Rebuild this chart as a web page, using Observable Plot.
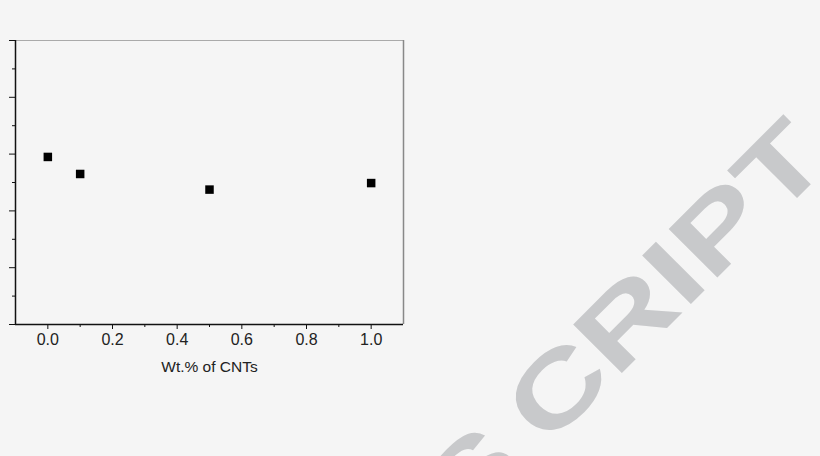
<!DOCTYPE html>
<html><head><meta charset="utf-8">
<script src="https://cdn.jsdelivr.net/npm/d3@7"></script>
<script src="https://cdn.jsdelivr.net/npm/@observablehq/plot@0.6"></script>
<style>
html,body{margin:0;padding:0;background:#f5f5f5;overflow:hidden;width:820px;height:456px}
#wrap{position:relative;width:820px;height:456px}
#wm{position:absolute;left:0;top:0}
#chart{position:absolute;left:0;top:0}
</style></head><body>
<div id="wrap">
<svg id="wm" width="820" height="456"></svg>
<div id="chart"></div>
</div>
<script>
// data
const cntWt = [0, 0.1, 0.5, 1.0];
const yValues = [5.9, 5.3, 4.75, 4.98];
const xMajorTicks = [0, 0.2, 0.4, 0.6, 0.8, 1.0];
const xMinorTicks = [0.1, 0.3, 0.5, 0.7, 0.9];
const yMajorTicks = [0, 2, 4, 6, 8, 10];
const yMinorTicks = [1, 3, 5, 7, 9];
const xLabel = "Wt.% of CNTs";
const watermarkParts = ["MANUS", "CRIPT"];

const data = cntWt.map((x, i) => ({x, y: yValues[i]}));

const chart = Plot.plot({
  width: 820, height: 456,
  marginLeft: 15, marginRight: 417, marginTop: 40, marginBottom: 132,
  style: {background: "transparent", fontFamily: "'Liberation Sans', Arial, sans-serif", fontSize: "16px", color: "#222"},
  x: {domain: [-0.1, 1.1]},
  y: {domain: [0, 10]},
  marks: [
    Plot.ruleY([10], {stroke: "#aaa", strokeWidth: 1}),
    Plot.ruleX([1.1], {stroke: "#888", strokeWidth: 1.5}),
    Plot.axisY(yMajorTicks, {tickSize: 6, fill: "none", label: null, stroke: "#111"}),
    Plot.axisY(yMinorTicks, {tickSize: 3, fill: "none", label: null, stroke: "#111"}),
    Plot.axisX(xMinorTicks, {tickSize: 3, fill: "none", label: null, stroke: "#111"}),
    Plot.axisX(xMajorTicks, {tickSize: 5, tickPadding: 4, stroke: "#111", fontSize: 16, tickFormat: d3.format(".1f"), label: null}),
    Plot.text([xLabel], {frameAnchor: "bottom", dy: 43, fontSize: 15.5, lineAnchor: "middle", fill: "#222"}),
    Plot.ruleX([-0.1], {stroke: "#111", strokeWidth: 1.5}),
    Plot.ruleY([0], {stroke: "#111", strokeWidth: 1.5}),
    Plot.dot(data, {x: "x", y: "y", symbol: "square", r: 4.8, fill: "#000", stroke: "none"})
  ]
});
document.getElementById("chart").appendChild(chart);

// watermark
const wm = d3.select("#wm");
const t = wm.append("text")
  .attr("transform", "translate(833,162) rotate(-45) scale(1.35,1)")
  .attr("text-anchor", "end")
  .attr("font-family", "'Liberation Sans', Arial, sans-serif")
  .attr("font-weight", "bold")
  .attr("font-size", 100)
  .attr("fill", "#c8c9cb");
t.append("tspan").text(watermarkParts[0]);
t.append("tspan").attr("dx", 20).text(watermarkParts[1]);
</script>
</body></html>
